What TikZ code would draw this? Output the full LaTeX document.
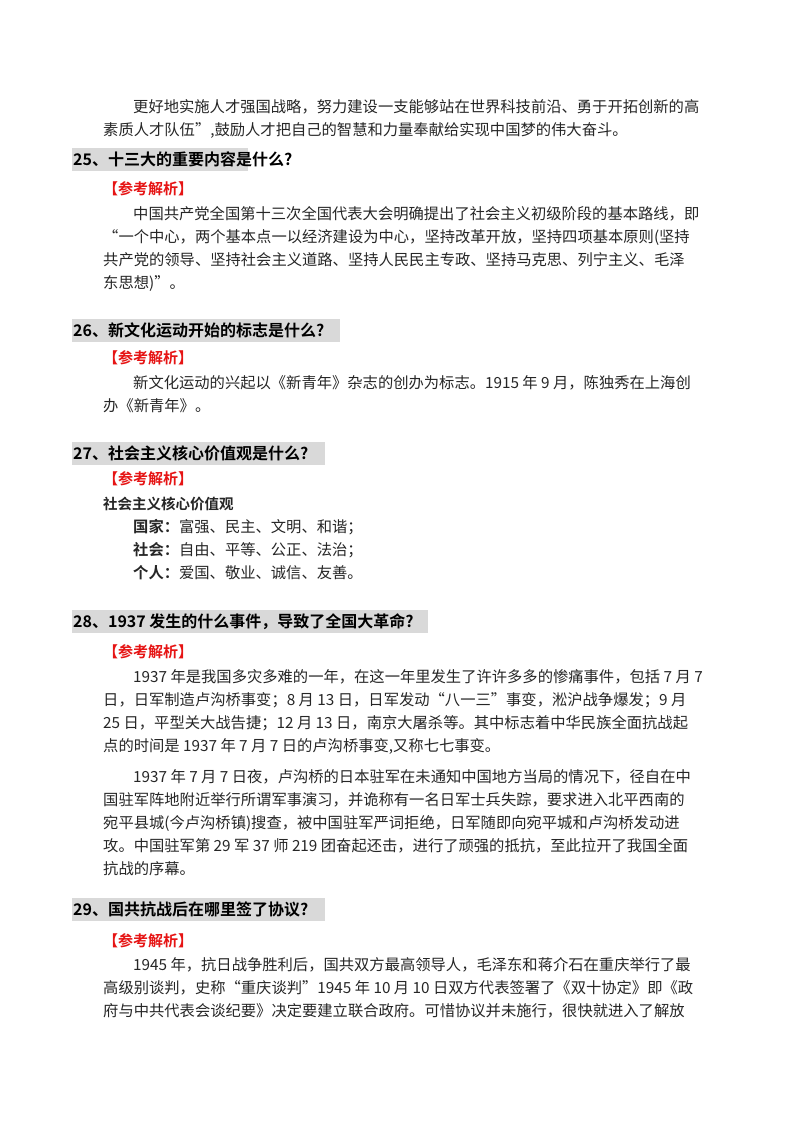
\documentclass[tikz,border=0pt]{standalone}
\usepackage{fontspec}
\setmainfont{Noto Sans CJK SC}
\newfontfamily\hfont{Noto Sans CJK SC}[BoldFont={* Bold}]
\definecolor{hgray}{RGB}{217,217,217}
\definecolor{ansred}{RGB}{230,20,20}
\tikzset{
 body/.style={anchor=base west,inner sep=0pt,font=\fontsize{15.3}{18}\selectfont,text=black!85},
 head/.style={anchor=west,inner sep=0pt,font=\hfont\bfseries\fontsize{16}{18}\selectfont},
 ans/.style={anchor=base west,inner sep=0pt,font=\hfont\bfseries\fontsize{15}{18}\selectfont,text=ansred},
 hbox/.style={fill=hgray,draw=none}
}
\begin{document}
\begin{tikzpicture}[x=1pt,y=-1pt]
\useasboundingbox[fill=white] (0,0) rectangle (800,1132);
% top paragraph
\node[body] (t1) at (133,112) {更好地实施人才强国战略，努力建设一支能够站在世界科技前沿、勇于开拓创新的高};
\node[body] (t2) at (103,135) {素质人才队伍”,鼓励人才把自己的智慧和力量奉献给实现中国梦的伟大奋斗。};
% 25
\fill[hbox] (72,148) rectangle (248,171);
\node[head] (h25) at (73,159.5) {25、十三大的重要内容是什么?};
\node[ans] (a25) at (103,194) {【参考解析】};
\node[body] (b251) at (133,219) {中国共产党全国第十三次全国代表大会明确提出了社会主义初级阶段的基本路线，即};
\node[body] (b252) at (103,242) {“一个中心，两个基本点一以经济建设为中心，坚持改革开放，坚持四项基本原则(坚持};
\node[body] (b253) at (103,265) {共产党的领导、坚持社会主义道路、坚持人民民主专政、坚持马克思、列宁主义、毛泽};
\node[body] (b254) at (103,288) {东思想)”。};
% 26
\fill[hbox] (72,319) rectangle (340,342);
\node[head] (h26) at (73,330.5) {26、新文化运动开始的标志是什么?};
\node[ans] (a26) at (103,363) {【参考解析】};
\node[body] (b261) at (133,388) {新文化运动的兴起以《新青年》杂志的创办为标志。1915 年 9 月，陈独秀在上海创};
\node[body] (b262) at (103,411) {办《新青年》。};
% 27
\fill[hbox] (72,442) rectangle (325,465);
\node[head] (h27) at (73,453.5) {27、社会主义核心价值观是什么?};
\node[ans] (a27) at (103,484) {【参考解析】};
\node[body,font=\hfont\bfseries\fontsize{14.5}{18}\selectfont] (b270) at (103,509) {社会主义核心价值观};
\node[body] (b271) at (133,532) {\hfont\bfseries 国家：\mdseries 富强、民主、文明、和谐；};
\node[body] (b272) at (133,555) {\hfont\bfseries 社会：\mdseries 自由、平等、公正、法治；};
\node[body] (b273) at (133,578) {\hfont\bfseries 个人：\mdseries 爱国、敬业、诚信、友善。};
% 28
\fill[hbox] (72,610) rectangle (428,633);
\node[head] (h28) at (73,621.5) {28、1937 发生的什么事件，导致了全国大革命?};
\node[ans] (a28) at (103,657) {【参考解析】};
\node[body] (b281) at (133,682) {1937 年是我国多灾多难的一年，在这一年里发生了许许多多的惨痛事件，包括 7 月 7};
\node[body] (b282) at (103,705) {日，日军制造卢沟桥事变；8 月 13 日，日军发动“八一三”事变，淞沪战争爆发；9 月};
\node[body] (b283) at (103,728) {25 日，平型关大战告捷；12 月 13 日，南京大屠杀等。其中标志着中华民族全面抗战起};
\node[body] (b284) at (103,751) {点的时间是 1937 年 7 月 7 日的卢沟桥事变,又称七七事变。};
\node[body] (b285) at (133,782) {1937 年 7 月 7 日夜，卢沟桥的日本驻军在未通知中国地方当局的情况下，径自在中};
\node[body] (b286) at (103,805) {国驻军阵地附近举行所谓军事演习，并诡称有一名日军士兵失踪，要求进入北平西南的};
\node[body] (b287) at (103,828) {宛平县城(今卢沟桥镇)搜查，被中国驻军严词拒绝，日军随即向宛平城和卢沟桥发动进};
\node[body] (b288) at (103,851) {攻。中国驻军第 29 军 37 师 219 团奋起还击，进行了顽强的抵抗，至此拉开了我国全面};
\node[body] (b289) at (103,874) {抗战的序幕。};
% 29
\fill[hbox] (72,898) rectangle (325,921);
\node[head] (h29) at (73,909.5) {29、国共抗战后在哪里签了协议?};
\node[ans] (a29) at (103,946) {【参考解析】};
\node[body] (b291) at (133,970) {1945 年，抗日战争胜利后，国共双方最高领导人，毛泽东和蒋介石在重庆举行了最};
\node[body] (b292) at (103,993) {高级别谈判，史称“重庆谈判”1945 年 10 月 10 日双方代表签署了《双十协定》即《政};
\node[body] (b293) at (103,1016) {府与中共代表会谈纪要》决定要建立联合政府。可惜协议并未施行，很快就进入了解放};
\end{tikzpicture}
\end{document}
